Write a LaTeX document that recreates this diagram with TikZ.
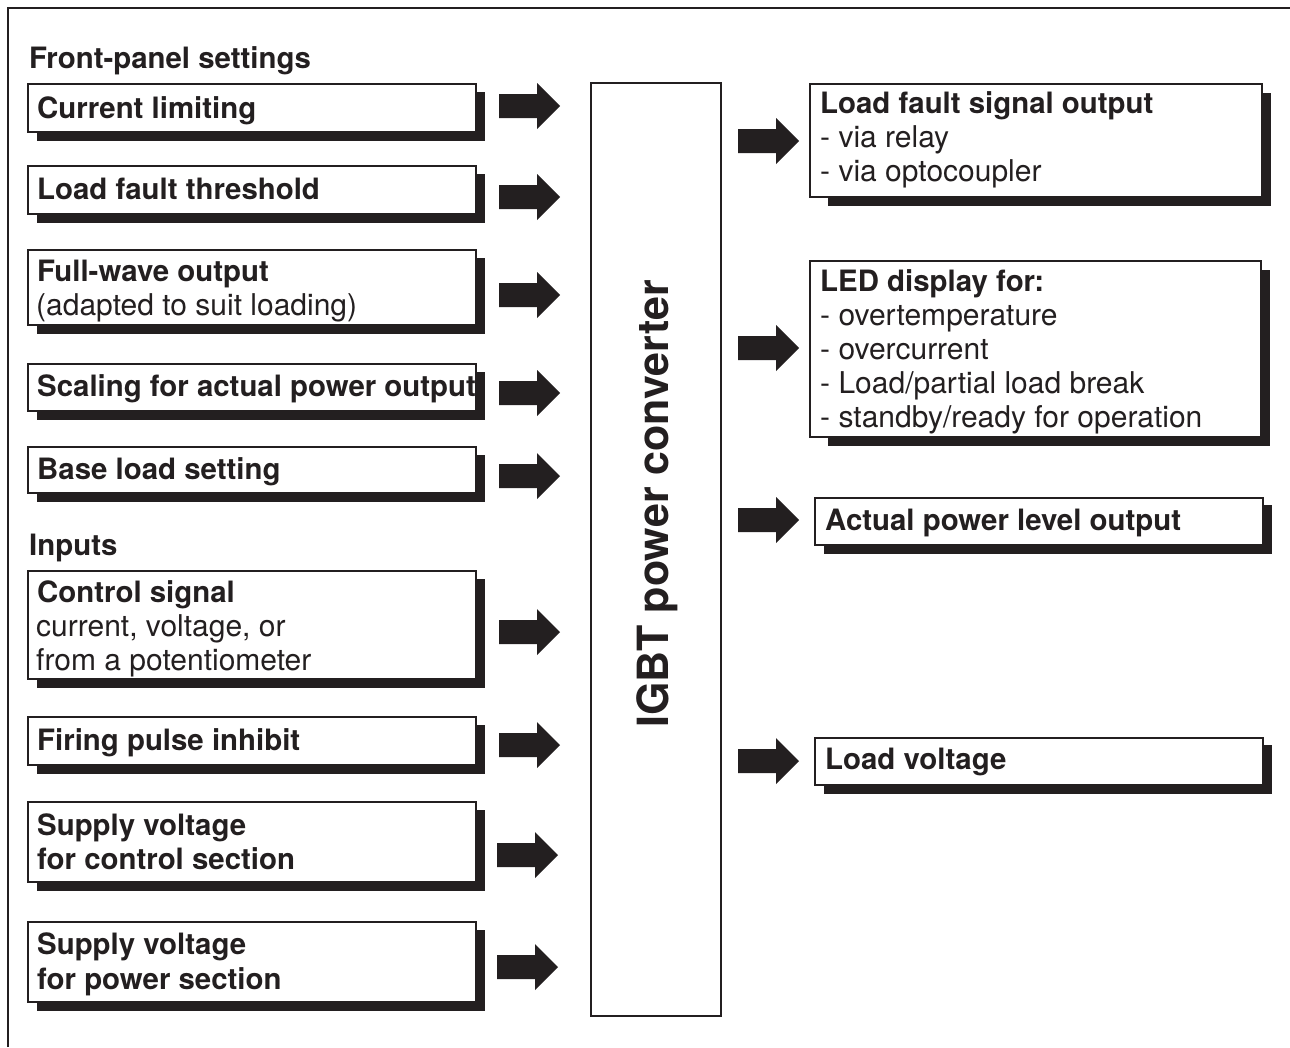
\documentclass[tikz,border=0pt]{standalone}
\usepackage{fontspec}
\setmainfont{TeX Gyre Heros}
\usetikzlibrary{fit}
\definecolor{ink}{HTML}{231F20}
\tikzset{
  boxst/.style={draw=ink, line width=1.7pt, fill=white, inner sep=0pt},
  shadowst/.style={fill=ink},
  bold/.style={anchor=base west, inner sep=0pt, text=ink, font=\fontsize{29.4}{34}\selectfont\bfseries},
  reg/.style={anchor=base west, inner sep=0pt, text=ink, font=\fontsize{30}{34}\selectfont},
  barrow/.pic={\fill[ink] (0,-12) -- (38,-12) -- (38,-23) -- (61,0) -- (38,23) -- (38,12) -- (0,12) -- cycle;}
}
% name, x1, y1, x2, y2, shadow x1, shadow y1
\newcommand\shbox[7]{%
  \fill[ink] (#6,#7) rectangle (#4+9,#5+9);
  \node[boxst, fit={(#2,#3)(#4,#5)}] (#1) {};
}
\begin{document}
\begin{tikzpicture}[x=1pt,y=-1pt]
\useasboundingbox (0,0) rectangle (1290,1047);
\fill[white] (0,0) rectangle (1290,1047);
\draw[ink, line width=2.2pt] (8,1047) -- (8,8) -- (1290,8);

% headings
\node[bold] (hfront) at (29,68) {Front-panel settings};
\node[bold] (hinputs) at (29,555) {Inputs};

% left boxes
\shbox{b1}{28}{84}{476}{132}{37}{92}
\node[bold] (t1) at (37,118) {Current limiting};

\shbox{b2}{28}{166}{476}{214}{37}{174}
\node[bold] (t2) at (37,199) {Load fault threshold};

\shbox{b3}{28}{250}{476}{325}{37}{258}
\node[bold] (t3a) at (37,281) {Full-wave output};
\node[reg] (t3b) at (36,315) {(adapted to suit loading)};

\shbox{b4}{28}{364}{476}{411}{37}{372}
\node[bold] (t4) at (37,396) {Scaling for actual power output};

\shbox{b5}{28}{447}{476}{493}{37}{455}
\node[bold] (t5) at (37,479) {Base load setting};

\shbox{b6}{28}{571}{476}{679}{37}{579}
\node[bold] (t6a) at (37,602) {Control signal};
\node[reg] (t6b) at (36,636) {current, voltage, or};
\node[reg] (t6c) at (36,670) {from a potentiometer};

\shbox{b7}{28}{717}{476}{765}{37}{725}
\node[bold] (t7) at (37,750) {Firing pulse inhibit};

\shbox{b8}{28}{802}{476}{882}{37}{810}
\node[bold] (t8a) at (37,835) {Supply voltage};
\node[bold] (t8b) at (37,869) {for control section};

\shbox{b9}{28}{922}{476}{1002}{37}{930}
\node[bold] (t9a) at (37,954) {Supply voltage};
\node[bold] (t9b) at (37,989) {for power section};

% left arrows
\pic at (499,106) {barrow};
\pic at (499,197) {barrow};
\pic at (499,295) {barrow};
\pic at (499,393) {barrow};
\pic at (499,476) {barrow};
\pic at (499,632) {barrow};
\pic at (499,745) {barrow};
\pic at (497,855) {barrow};
\pic at (497,967) {barrow};

% central converter
\node[boxst, fit={(591,83)(721,1016)}] (igbt) {};
\node[rotate=90, anchor=base, inner sep=0pt, text=ink, font=\fontsize{43}{50}\selectfont\bfseries] (igbtt) at (668,504) {IGBT power converter};

% right arrows
\pic at (738,141) {barrow};
\pic at (738,348) {barrow};
\pic at (738,520) {barrow};
\pic at (738,761) {barrow};

% right boxes
\shbox{r1}{810}{84}{1262}{197}{828}{93}
\node[bold] (u1a) at (820,113) {Load fault signal output};
\node[reg] (u1b) at (820,147) {- via relay};
\node[reg] (u1c) at (820,181) {- via optocoupler};

\shbox{r2}{810}{261}{1261}{437}{828}{270}
\node[bold] (u2a) at (820,291) {LED display for:};
\node[reg] (u2b) at (820,325) {- overtemperature};
\node[reg] (u2c) at (820,359) {- overcurrent};
\node[reg] (u2d) at (820,393) {- Load/partial load break};
\node[reg] (u2e) at (820,427) {- standby/ready for operation};

\shbox{r3}{815}{498}{1263}{545}{824}{505}
\node[bold] (u3) at (825,530) {Actual power level output};

\shbox{r4}{815}{738}{1263}{785}{824}{745}
\node[bold] (u4) at (825,769) {Load voltage};
\end{tikzpicture}
\end{document}
